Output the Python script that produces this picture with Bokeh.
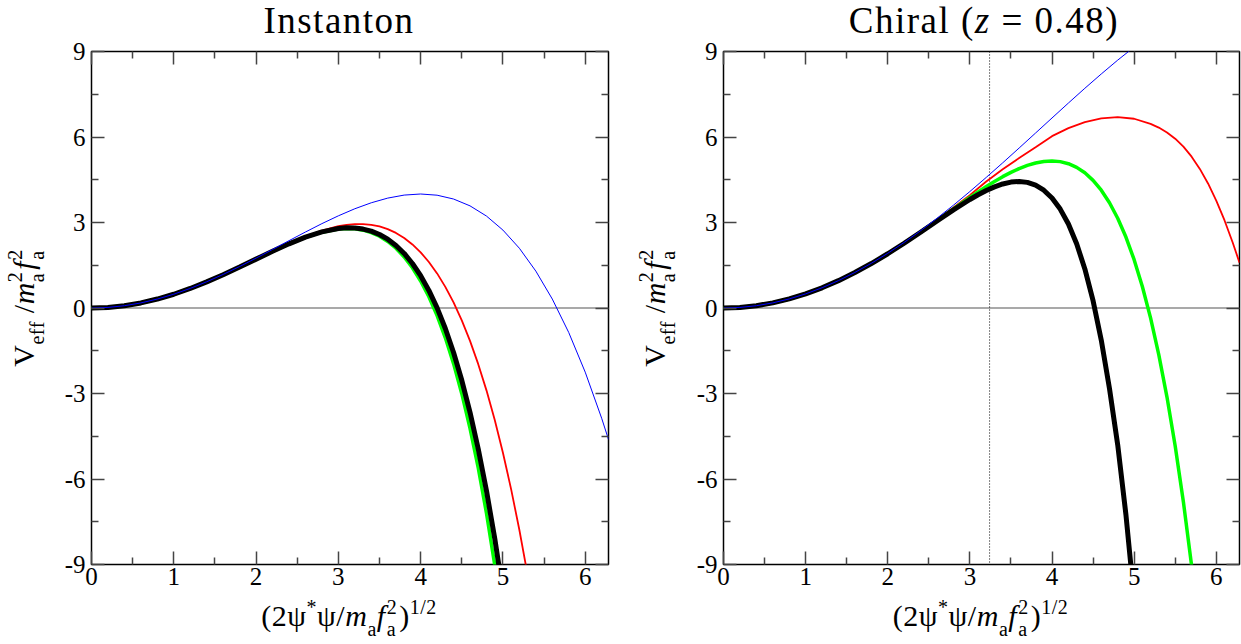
from bokeh.plotting import figure
from bokeh.models import Range1d, FixedTicker, LinearAxis, Span, Div
from bokeh.layouts import row, column
from bokeh.embed import file_html
from bokeh.resources import INLINE

# ---------------- data ----------------
X_MAX = 6.283
x_major = [0, 1, 2, 3, 4, 5, 6]
x_minor = [0.5, 1.5, 2.5, 3.5, 4.5, 5.5]
y_major = [-9, -6, -3, 0, 3, 6, 9]
y_minor = [-7.5, -4.5, -1.5, 1.5, 4.5, 7.5]

title_left = "Instanton"
title_right = ("Chiral (", "z", " = 0.48)")
chiral_z_line = 3.24

# Instanton panel
inst_blue_x = [0, 0.2, 0.4, 0.6, 0.8, 1.0, 1.2, 1.4, 1.6, 1.8, 2.0, 2.2, 2.4, 2.6, 2.8, 3.0, 3.2, 3.4, 3.6, 3.8, 4.0,
               4.2, 4.4, 4.6, 4.8, 5.0, 5.2, 5.4, 5.6, 5.8, 6.0, 6.2, 6.283]
inst_blue_y = [0, 0.020, 0.080, 0.178, 0.314, 0.484, 0.688, 0.920, 1.178, 1.456, 1.750, 2.054, 2.362, 2.666, 2.960,
               3.234, 3.482, 3.692, 3.856, 3.962, 4.000, 3.958, 3.824, 3.584, 3.226, 2.734, 2.096, 1.294, 0.314,
               -0.861, -2.250, -3.868, -4.612]
inst_red_x = [0, 0.2, 0.4, 0.6, 0.8, 1.0, 1.2, 1.4, 1.6, 1.8, 2.0, 2.2, 2.4, 2.6, 2.8, 3.0, 3.1, 3.2, 3.3, 3.4, 3.5,
              3.6, 3.7, 3.8, 3.9, 4.0, 4.1, 4.2, 4.3, 4.4, 4.5, 4.6, 4.7, 4.8, 4.9, 5.0, 5.1, 5.2, 5.3]
inst_red_y = [0, 0.020, 0.080, 0.178, 0.314, 0.483, 0.686, 0.916, 1.170, 1.439, 1.718, 1.997, 2.266, 2.512, 2.719,
              2.870, 2.918, 2.945, 2.946, 2.920, 2.861, 2.768, 2.634, 2.457, 2.231, 1.952, 1.615, 1.214, 0.742,
              0.196, -0.434, -1.153, -1.970, -2.890, -3.924, -5.079, -6.364, -7.790, -9.366]
inst_green_x = [0, 0.2, 0.4, 0.6, 0.8, 1.0, 1.2, 1.4, 1.6, 1.8, 2.0, 2.2, 2.4, 2.6, 2.8, 3.0, 3.1, 3.2, 3.3, 3.4, 3.5,
                3.6, 3.7, 3.8, 3.9, 4.0, 4.1, 4.2, 4.3, 4.4, 4.5, 4.6, 4.7, 4.8, 4.9, 5.0]
inst_green_y = [0, 0.020, 0.080, 0.178, 0.314, 0.483, 0.686, 0.916, 1.169, 1.437, 1.714, 1.989, 2.249, 2.480, 2.661,
                2.770, 2.788, 2.777, 2.731, 2.647, 2.517, 2.336, 2.097, 1.792, 1.412, 0.949, 0.393, -0.267, -1.046,
                -1.953, -3.007, -4.220, -5.613, -7.201, -9.009, -11.06]
inst_black_x = [0, 0.2, 0.4, 0.6, 0.8, 1.0, 1.2, 1.4, 1.6, 1.8, 2.0, 2.2, 2.4, 2.6, 2.8, 3.0, 3.1, 3.2, 3.3, 3.4, 3.5,
                3.6, 3.7, 3.8, 3.9, 4.0, 4.1, 4.2, 4.3, 4.4, 4.5, 4.6, 4.7, 4.8, 4.9, 5.0]
inst_black_y = [0, 0.020, 0.080, 0.178, 0.314, 0.483, 0.686, 0.916, 1.169, 1.438, 1.715, 1.990, 2.252, 2.486, 2.672,
                2.788, 2.812, 2.808, 2.770, 2.697, 2.580, 2.415, 2.195, 1.914, 1.562, 1.133, 0.617, 0.004, -0.719,
                -1.560, -2.536, -3.659, -4.946, -6.412, -8.078, -9.962]

# Chiral panel
chir_blue_x = [0, 0.2, 0.4, 0.6, 0.8, 1.0, 1.2, 1.4, 1.6, 1.8, 2.0, 2.2, 2.4, 2.6, 2.8, 3.0, 3.2, 3.4, 3.6, 3.8, 4.0,
               4.2, 4.4, 4.6, 4.8, 5.0]
chir_blue_y = [0, 0.020, 0.080, 0.179, 0.318, 0.495, 0.710, 0.961, 1.247, 1.568, 1.920, 2.302, 2.713, 3.149, 3.608,
               4.087, 4.584, 5.094, 5.614, 6.140, 6.667, 7.192, 7.709, 8.212, 8.697, 9.156]
chir_red_x = [0, 0.2, 0.4, 0.6, 0.8, 1.0, 1.2, 1.4, 1.6, 1.8, 2.0, 2.2, 2.4, 2.6, 2.8, 3.0, 3.2, 3.4, 3.6, 3.8, 4.0,
              4.2, 4.4, 4.6, 4.8, 5.0, 5.2, 5.3, 5.4, 5.5, 5.6, 5.7, 5.8, 5.9, 6.0, 6.1, 6.2, 6.283]
chir_red_y = [0, 0.020, 0.080, 0.179, 0.318, 0.495, 0.709, 0.960, 1.244, 1.561, 1.908, 2.282, 2.679, 3.095, 3.524,
              3.960, 4.44, 4.87, 5.26, 5.64, 6.03, 6.31, 6.52, 6.65, 6.70, 6.64, 6.46, 6.33, 6.16, 5.94, 5.66,
              5.31, 4.88, 4.37, 3.77, 3.08, 2.30, 1.59]
chir_green_x = [0, 0.2, 0.4, 0.6, 0.8, 1.0, 1.2, 1.4, 1.6, 1.8, 2.0, 2.2, 2.4, 2.6, 2.8, 3.0, 3.1, 3.2, 3.3, 3.4, 3.5,
                3.6, 3.7, 3.8, 3.9, 4.0, 4.1, 4.2, 4.3, 4.4, 4.5, 4.6, 4.7, 4.8, 4.9, 5.0, 5.1, 5.2, 5.3, 5.4,
                5.5, 5.6, 5.7]
chir_green_y = [0, 0.020, 0.080, 0.179, 0.318, 0.495, 0.709, 0.959, 1.244, 1.560, 1.905, 2.275, 2.665, 3.069, 3.478,
                3.880, 4.075, 4.263, 4.441, 4.608, 4.760, 4.893, 5.004, 5.089, 5.142, 5.160, 5.136, 5.063, 4.935,
                4.743, 4.479, 4.132, 3.693, 3.150, 2.489, 1.696, 0.756, -0.348, -1.635, -3.125, -4.840, -6.805,
                -9.045]
chir_black_x = [0, 0.2, 0.4, 0.6, 0.8, 1.0, 1.2, 1.4, 1.6, 1.8, 2.0, 2.2, 2.4, 2.6, 2.8, 3.0, 3.1, 3.2, 3.3, 3.4, 3.5,
                3.6, 3.7, 3.8, 3.9, 4.0, 4.1, 4.2, 4.3, 4.4, 4.5, 4.6, 4.7, 4.8, 4.9, 5.0]
chir_black_y = [0, 0.020, 0.080, 0.179, 0.318, 0.495, 0.709, 0.959, 1.244, 1.560, 1.904, 2.272, 2.658, 3.051, 3.441,
                3.807, 3.973, 4.123, 4.251, 4.352, 4.418, 4.439, 4.408, 4.310, 4.133, 3.860, 3.471, 2.945, 2.255,
                1.370, 0.256, -1.128, -2.829, -4.80, -7.25, -10.2]

# ---------------- styling helpers ----------------
FONT = "Liberation Serif"
TICK_COLOR = "#444444"
F, S = 30, 20          # axis-title main / script font sizes (px)
SUB, SUP = 10, 12      # script offsets (px)
BASE = f"font-family:'{FONT}',serif;color:black;line-height:1;white-space:nowrap;"
TOP_H = 34             # height of the title strip
FIG_H = 566            # height of each panel canvas


def sub(t, gap=0):
    return f'<span style="font-size:{S}px;position:relative;top:{SUB}px;margin-left:{gap}px">{t}</span>'


def sup(t):
    return f'<span style="font-size:{S}px;position:relative;top:-{SUP}px">{t}</span>'


def stack(lo, hi, gap=0):
    back = 0.444 * S * len(lo) + 0.5 * len(lo)
    return (sub(lo, gap) + f'<span style="font-size:{S}px;position:relative;top:-{SUP}px;'
            f'margin-left:-{back:.1f}px;margin-right:2px">{hi}</span>')


xlabel_html = ("(2ψ" + sup("*") + "ψ/<i>m</i>" + sub("a") + "<i>f</i>" + stack("a", "2", 1) + ")"
               + sup("1/2"))
ylabel_html = ("V" + sub("eff") + "&nbsp;/<i>m</i>" + stack("a", "2") + "<i>f</i>" + stack("a", "2", 1))


def box(width, height, inner):
    return Div(width=width, height=height, margin=0, styles={"overflow": "visible", "z-index": "2"},
               text=f'<div style="position:relative;width:{width}px;height:{height}px;overflow:visible">'
                    f'{inner}</div>')


def horiz_text(html, cx, baseline, size, spacing):
    top = baseline - 0.8375 * size
    return (f'<div style="position:absolute;left:{cx}px;top:{top:.1f}px;transform:translateX(-50%);'
            f'{BASE}font-size:{size}px;letter-spacing:{spacing}px">{html}</div>')


def vert_text(html, bx, cy, size, spacing):
    return (f'<div style="position:absolute;left:{bx}px;top:{cy}px;transform-origin:0 0;'
            f'transform:rotate(-90deg) translate(-50%,-{0.8375 * size:.1f}px);{BASE}font-size:{size}px;'
            f'letter-spacing:{spacing}px">{html}</div>')


def style_axis(ax, ticks, minor, show_labels):
    ax.ticker = FixedTicker(ticks=ticks, minor_ticks=minor)
    ax.axis_line_color = None
    ax.major_tick_in = 13
    ax.major_tick_out = 0
    ax.minor_tick_in = 7
    ax.minor_tick_out = 0
    ax.major_tick_line_color = TICK_COLOR
    ax.minor_tick_line_color = TICK_COLOR
    ax.major_tick_line_width = 1.5
    ax.minor_tick_line_width = 1.5
    if show_labels:
        ax.major_label_text_font = FONT
        ax.major_label_text_font_size = "25px"
        ax.major_label_text_color = "black"
        ax.major_label_overrides = {t: str(t) for t in ticks}
    else:
        ax.major_label_overrides = {t: "" for t in ticks}
        ax.major_label_text_font_size = "0px"
        ax.major_label_standoff = 0


def make_panel(width, left, right):
    p = figure(width=width, height=FIG_H, x_range=Range1d(0, X_MAX), y_range=Range1d(-9, 9),
               output_backend="svg", toolbar_location=None, x_axis_location=None, y_axis_location=None,
               min_border_left=left, min_border_right=right, min_border_top=51 - TOP_H, min_border_bottom=36)
    p.xgrid.visible = False
    p.ygrid.visible = False
    p.outline_line_color = "black"
    p.outline_line_width = 1.5
    p.background_fill_color = "white"
    p.border_fill_color = None

    below = LinearAxis()
    style_axis(below, x_major, x_minor, True)
    below.major_label_standoff = 3
    p.add_layout(below, "below")
    above = LinearAxis()
    style_axis(above, x_major, x_minor, False)
    p.add_layout(above, "above")
    leftax = LinearAxis()
    style_axis(leftax, y_major, y_minor, True)
    leftax.major_label_standoff = 6
    p.add_layout(leftax, "left")
    rightax = LinearAxis()
    style_axis(rightax, y_major, y_minor, False)
    p.add_layout(rightax, "right")

    p.add_layout(Span(location=0, dimension="width", line_color="#555555", line_width=1.2, level="underlay"))
    return p


# ---------------- left panel ----------------
p1 = make_panel(570, 41, 12)
p1.line(inst_red_x, inst_red_y, line_color="#ff0000", line_width=1.8)
p1.line(inst_green_x, inst_green_y, line_color="#00ff00", line_width=3.5)
p1.line(inst_black_x, inst_black_y, line_color="black", line_width=5)
p1.line(inst_blue_x, inst_blue_y, line_color="#0000ff", line_width=1)

# ---------------- right panel ----------------
p2 = make_panel(561, 43, 2)
p2.add_layout(Span(location=chiral_z_line, dimension="height", line_color="black", line_width=1,
                   line_dash="1 2", level="underlay"))
p2.line(chir_red_x, chir_red_y, line_color="#ff0000", line_width=1.8)
p2.line(chir_green_x, chir_green_y, line_color="#00ff00", line_width=3.5)
p2.line(chir_black_x, chir_black_y, line_color="black", line_width=5)
p2.line(chir_blue_x, chir_blue_y, line_color="#0000ff", line_width=1)

# ---------------- text boxes ----------------
TF = 37
mid_y = 307 - TOP_H
t1 = box(620, TOP_H, horiz_text(title_left, 339, 33.2, TF, 1.5))
t2 = box(621, TOP_H, horiz_text(title_right[0] + "<i>" + title_right[1] + "</i>"
                                + title_right[2].replace(" ", "&nbsp;"), 364, 33.2, TF, 1.5))
y1 = box(50, FIG_H, vert_text(ylabel_html, 34, mid_y, F, 0.5))
y2 = box(60, FIG_H, vert_text(ylabel_html, 45, mid_y, F, 0.5))
x1 = box(620, 644 - TOP_H - FIG_H, horiz_text(xlabel_html, 349, 26, F, 0.5))
x2 = box(621, 644 - TOP_H - FIG_H, horiz_text(xlabel_html, 360.5, 26, F, 0.5))

layout = column(row(t1, t2), row(y1, p1, y2, p2), row(x1, x2))
open("out.html", "w").write(file_html(layout, INLINE))
